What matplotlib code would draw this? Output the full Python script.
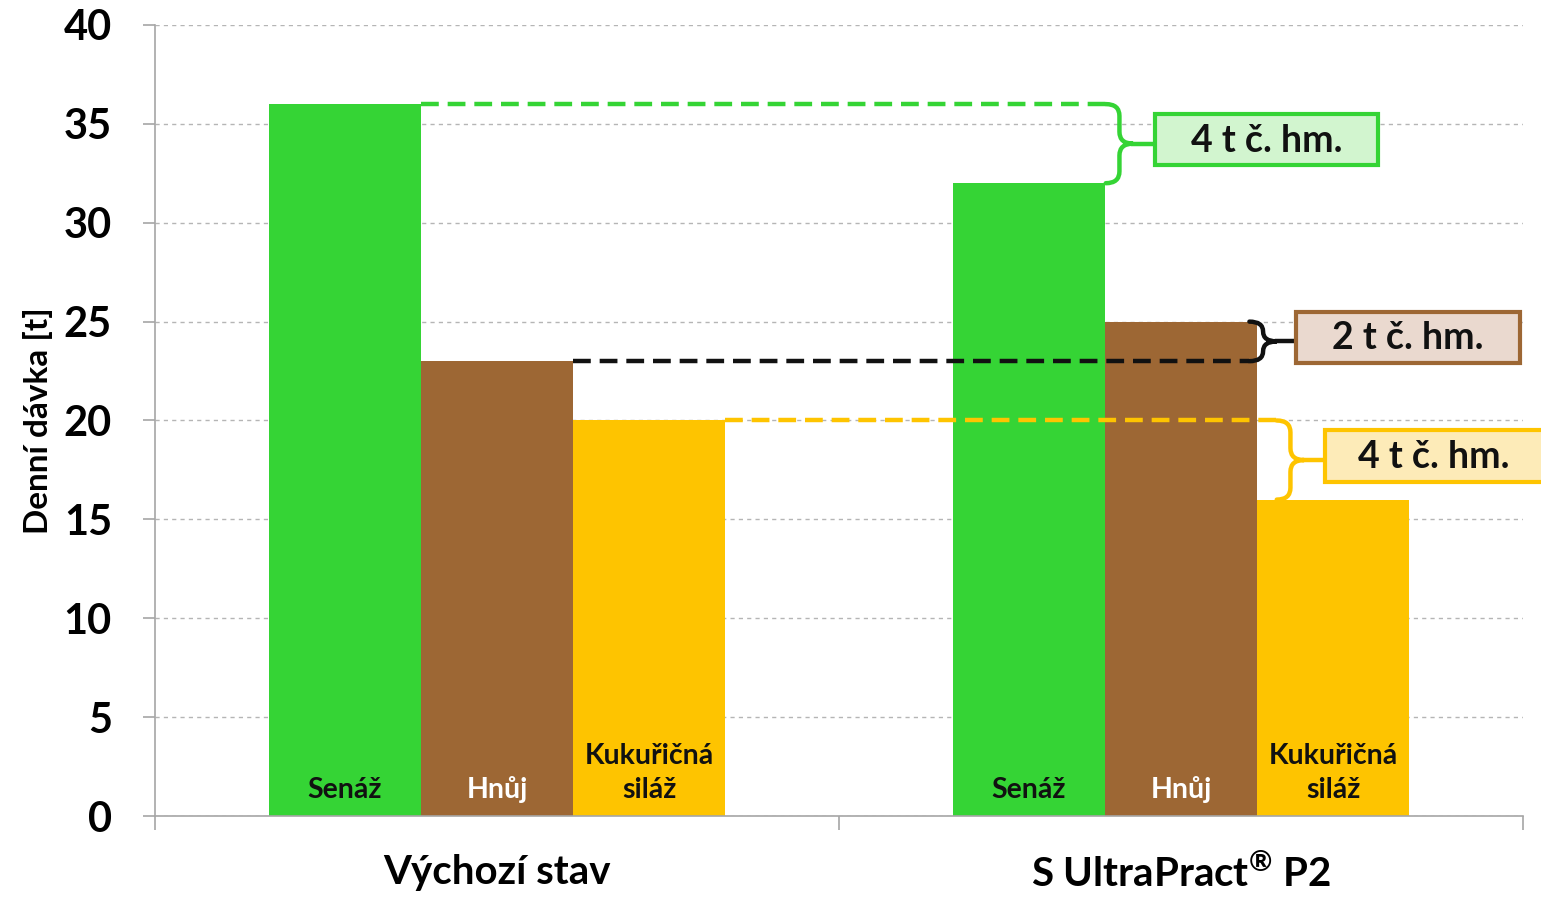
import numpy as np
import matplotlib
matplotlib.use("Agg")
import matplotlib.pyplot as plt
from matplotlib.path import Path
from matplotlib.patches import PathPatch, Rectangle

plt.rcParams['font.family'] = ['Lato', 'DejaVu Sans']
plt.rcParams['font.weight'] = 'bold'
plt.rcParams['axes.labelweight'] = 'bold'
plt.rcParams['mathtext.fontset'] = 'custom'
plt.rcParams['mathtext.rm'] = 'Lato:bold'
plt.rcParams['mathtext.bf'] = 'Lato:bold'

# Données
skupiny = ['Výchozí stav', 'S UltraPract$^{\\mathrm{®}}$ P2']
krmiva = ['Senáž', 'Hnůj', 'Kukuřičná\nsiláž']
senaz = [36, 32]
hnuj = [23, 25]
kukuricna = [20, 16]
rozdily = ['4 t č. hm.', '2 t č. hm.', '4 t č. hm.']

barvy = ['#35d435', '#9d6734', '#fec400']
barvy_boxu = ['#d2f5cf', '#ead9cf', '#fdebb8']
barvy_textu = ['#111111', '#ffffff', '#111111']
barvy_car = ['#35d435', '#111111', '#fec400']

fig = plt.figure(figsize=(15.41, 8.97), dpi=100)
ax = fig.add_axes([155 / 1541, (897 - 816) / 897, (1523 - 155) / 1541, (816 - 25) / 897])

x = np.arange(len(skupiny))
w = 152 / 684
hodnoty = [senaz, hnuj, kukuricna]
for i, vals in enumerate(hodnoty):
    pos = x + (i - 1) * w
    ax.bar(pos, vals, width=w, color=barvy[i], zorder=2)
    for p in pos:
        ax.text(p, 0.65, krmiva[i], ha='center', va='bottom', fontsize=20.5,
                color=barvy_textu[i], linespacing=1.4, zorder=3)

ax.set_xlim(-0.5, 1.5)
ax.set_ylim(0, 40)
ax.set_yticks(np.arange(0, 41, 5))
ax.tick_params(axis='y', labelsize=30, length=9, color='#a6a6a6', width=1.2, pad=22)
ax.set_xticks(x)
ax.set_xticklabels(skupiny, fontsize=29)
ax.set_xticks([-0.5, 0.5, 1.5], minor=True)
ax.tick_params(axis='x', which='major', length=0, pad=27)
ax.tick_params(axis='x', which='minor', length=10, color='#a6a6a6', width=1.2)
ax.yaxis.grid(True, linestyle=(0, (3, 3)), color='#b5b5b5', linewidth=1, zorder=0)
ax.set_axisbelow(True)
for s in ['top', 'right']:
    ax.spines[s].set_visible(False)
for s in ['left', 'bottom']:
    ax.spines[s].set_color('#a6a6a6')
    ax.spines[s].set_linewidth(1.2)
ax.set_ylabel('Denní dávka [t]', fontsize=24, labelpad=8)


def slozena_zavorka(x0, yt, yb, sirka, barva):
    # kreslí složenou závorku "}" od yt do yb
    ym = (yt + yb) / 2
    r = min(0.6, abs(yt - yb) / 4)
    xm = x0 + sirka / 2
    verts = [(x0, yt), (xm, yt), (xm, yt - r), (xm, ym + r), (xm, ym), (x0 + sirka, ym),
             (xm, ym), (xm, ym - r), (xm, yb + r), (xm, yb), (x0, yb)]
    codes = [Path.MOVETO, Path.CURVE3, Path.CURVE3, Path.LINETO, Path.CURVE3, Path.CURVE3,
             Path.CURVE3, Path.CURVE3, Path.LINETO, Path.CURVE3, Path.CURVE3]
    ax.add_patch(PathPatch(Path(verts, codes), fill=False, edgecolor=barva, lw=3.2,
                           zorder=4, clip_on=False, capstyle='round'))
    return x0 + sirka, ym


# anotace rozdílů
x_zav = [0.89, 1.100, 1.14]
x_box = [0.962, 1.168, 1.21]
box_w = [0.326, 0.328, 0.32]
box_h = 2.6
for i, vals in enumerate(hodnoty):
    pravy_okraj = x[0] + (i - 1) * w + w / 2
    c = barvy_car[i]
    ax.plot([pravy_okraj, x_zav[i]], [vals[0], vals[0]], color=c, lw=3.2,
            linestyle=(0, (4, 2)), zorder=4, clip_on=False)
    xt, ym = slozena_zavorka(x_zav[i], max(vals), min(vals), 0.04, c)
    ax.plot([xt, x_box[i]], [ym, ym], color=c, lw=3.2, zorder=4, clip_on=False)
    yc = ym + 0.2
    ax.add_patch(Rectangle((x_box[i], yc - box_h / 2), box_w[i], box_h,
                           facecolor=barvy_boxu[i], edgecolor=barvy[i],
                           lw=3, zorder=5, clip_on=False))
    ax.text(x_box[i] + box_w[i] / 2, yc - 0.05, rozdily[i], ha='center', va='center',
            fontsize=27, color='#111111', zorder=6, clip_on=False)

fig.savefig('out.png', dpi=100)
